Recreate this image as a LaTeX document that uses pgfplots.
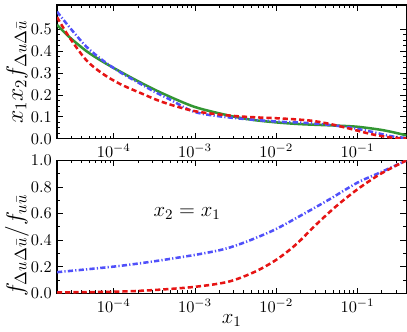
\documentclass[border=0pt]{standalone}
\usepackage{fix-cm}
\usepackage{pgfplots}
\pgfplotsset{compat=1.18}

\definecolor{cgreen}{RGB}{50,150,50}
\definecolor{cblue}{RGB}{80,80,250}
\definecolor{cred}{RGB}{230,20,20}

\tikzset{
  grn/.style={cgreen, line width=1.7pt, smooth},
  blu/.style={cblue, line width=1.7pt, smooth, dash pattern=on 3.5pt off 1.5pt on 0.8pt off 1.5pt},
  rd/.style={cred, line width=1.7pt, smooth, dash pattern=on 3.5pt off 2pt},
}

\begin{document}
\begin{tikzpicture}
\begin{axis}[name=top,
  width=235pt, height=90pt, scale only axis,
  xmode=log, xmin=2e-5, xmax=0.4,
  xtick={1e-4,1e-3,1e-2,1e-1},
  minor xtick={2e-5,3e-5,4e-5,5e-5,6e-5,7e-5,8e-5,9e-5,
               2e-4,3e-4,4e-4,5e-4,6e-4,7e-4,8e-4,9e-4,
               2e-3,3e-3,4e-3,5e-3,6e-3,7e-3,8e-3,9e-3,
               2e-2,3e-2,4e-2,5e-2,6e-2,7e-2,8e-2,9e-2,
               2e-1,3e-1,4e-1},
  tick align=inside,
  major tick length=4pt, minor tick length=2pt,
  tick style={black, line width=0.6pt},
  axis line style={line width=0.8pt},
  tick label style={font=\fontsize{11}{13}\selectfont},
  yticklabel style={/pgf/number format/.cd, fixed, fixed zerofill, precision=1},
  ymin=0, ymax=0.61,
  ytick={0,0.1,0.2,0.3,0.4,0.5},
  minor y tick num=3,
  ylabel={$x_1x_2f_{\Delta u\Delta\bar{u}}$},
  ylabel style={font=\fontsize{16}{18}\selectfont, anchor=center, at={(axis description cs:-0.115,0.5)}},
]
% green solid
\addplot[grn] coordinates {
  (2e-5,0.52) (2.8e-5,0.466) (4.6e-5,0.40) (7.3e-5,0.352) (1.18e-4,0.308)
  (2.1e-4,0.258) (4.1e-4,0.205) (1e-3,0.145) (2.7e-3,0.105) (5e-3,0.087)
  (1e-2,0.075) (2e-2,0.067) (5e-2,0.061) (1e-1,0.055) (2.1e-1,0.039) (4e-1,0.016)
};
% blue dash-dot
\addplot[blu] coordinates {
  (2e-5,0.58) (2.8e-5,0.512) (4.6e-5,0.42) (7.3e-5,0.358) (1.18e-4,0.305)
  (2.1e-4,0.252) (3.16e-4,0.215) (5e-4,0.178) (1e-3,0.122) (2.7e-3,0.097) (1e-2,0.079)
  (2e-2,0.074) (3.9e-2,0.066) (8.3e-2,0.051) (1.5e-1,0.032) (2.6e-1,0.012) (4e-1,0.004)
};
% red dashed
\addplot[rd] coordinates {
  (2e-5,0.555) (2.8e-5,0.466) (4.6e-5,0.358) (7.3e-5,0.297) (1.18e-4,0.251)
  (2.1e-4,0.210) (4.1e-4,0.166) (1e-3,0.126) (2.7e-3,0.106) (5e-3,0.099)
  (1e-2,0.094) (1.7e-2,0.089) (2.8e-2,0.082) (4.7e-2,0.067) (8.3e-2,0.045)
  (1.5e-1,0.021) (2.6e-1,0.006) (4e-1,0.002)
};
\end{axis}

\begin{axis}[name=bot,
  at={(top.south west)}, yshift=-14.5pt, anchor=north west,
  width=235pt, height=89.5pt, scale only axis,
  xmode=log, xmin=2e-5, xmax=0.4,
  xtick={1e-4,1e-3,1e-2,1e-1},
  minor xtick={2e-5,3e-5,4e-5,5e-5,6e-5,7e-5,8e-5,9e-5,
               2e-4,3e-4,4e-4,5e-4,6e-4,7e-4,8e-4,9e-4,
               2e-3,3e-3,4e-3,5e-3,6e-3,7e-3,8e-3,9e-3,
               2e-2,3e-2,4e-2,5e-2,6e-2,7e-2,8e-2,9e-2,
               2e-1,3e-1,4e-1},
  tick align=inside,
  major tick length=4pt, minor tick length=2pt,
  tick style={black, line width=0.6pt},
  axis line style={line width=0.8pt},
  tick label style={font=\fontsize{11}{13}\selectfont},
  yticklabel style={/pgf/number format/.cd, fixed, fixed zerofill, precision=1},
  ymin=0, ymax=1,
  ytick={0,0.2,0.4,0.6,0.8,1.0},
  minor y tick num=1,
  ylabel={$f_{\Delta u\Delta\bar{u}}/f_{u\bar{u}}$},
  ylabel style={font=\fontsize{16}{18}\selectfont, anchor=center, at={(axis description cs:-0.115,0.36)}},
  xlabel={$x_1$},
  xlabel style={font=\fontsize{14}{16}\selectfont, anchor=center, at={(axis description cs:0.5,-0.20)}},
]
\addplot[blu] coordinates {
  (2e-5,0.16) (1e-4,0.202) (3e-4,0.24) (1e-3,0.29) (2e-3,0.325) (3e-3,0.355)
  (5e-3,0.405) (1e-2,0.485) (2.3e-2,0.606) (4.5e-2,0.707) (1e-1,0.833)
  (1.9e-1,0.909) (4e-1,1.0)
};
\addplot[rd] coordinates {
  (2e-5,0.008) (1e-4,0.013) (3e-4,0.025) (1e-3,0.05) (2.6e-3,0.089) (5.5e-3,0.164)
  (1e-2,0.253) (1.74e-2,0.367) (3.1e-2,0.518) (5.5e-2,0.657) (1e-1,0.783)
  (1.9e-1,0.897) (4e-1,1.0)
};
\node[font=\fontsize{14}{16}\selectfont] at (axis cs:8e-4,0.6) {$x_2 = x_1$};
\end{axis}
% small margin above the top axis, as in the reference
\path ([yshift=3.4pt]top.north west);
\end{tikzpicture}
\end{document}
